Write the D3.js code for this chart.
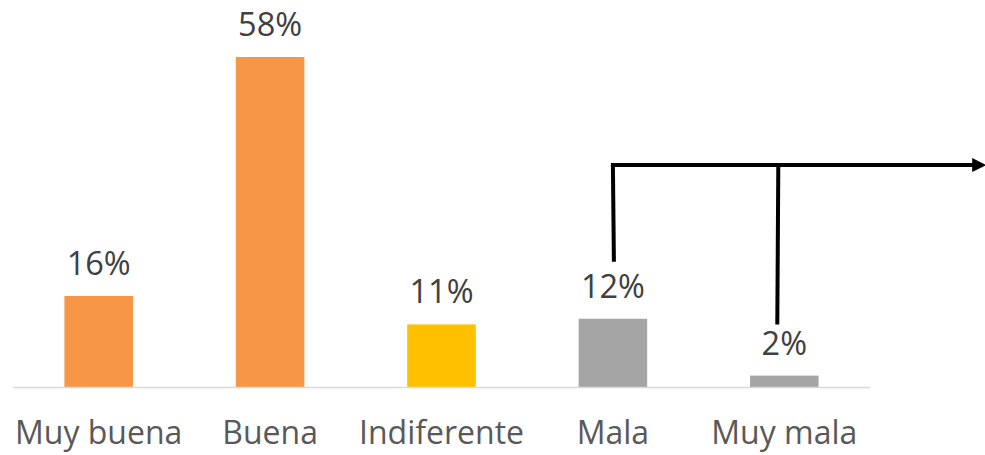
<!DOCTYPE html>
<html>
<head>
<meta charset="utf-8">
<script src="https://cdn.jsdelivr.net/npm/d3@7"></script>
<style>
  html, body { margin: 0; padding: 0; background: #fff; }
  svg { display: block; }
  text { font-family: "Open Sans", sans-serif; }
</style>
</head>
<body>
<svg id="chart" width="985" height="455"></svg>
<script>
const categories = ["Muy buena", "Buena", "Indiferente", "Mala", "Muy mala"];
const values = [16, 58, 11, 12, 2];
const valueLabels = ["16%", "58%", "11%", "12%", "2%"];
const barColors = ["#F79646", "#F79646", "#FFC000", "#A5A5A5", "#A5A5A5"];

const W = 985, H = 455;
const svg = d3.select("#chart");
const x0 = 13, x1 = 870, base = 387;

const x = d3.scaleBand().domain(categories).range([x0, x1]).paddingInner(0.6).paddingOuter(0.3);
const y = d3.scaleLinear().domain([0, 58]).range([base, 57]);

// bars
svg.append("g").selectAll("rect").data(categories).join("rect")
  .attr("x", d => x(d))
  .attr("width", x.bandwidth())
  .attr("y", (d, i) => y(values[i]))
  .attr("height", (d, i) => base - y(values[i]))
  .attr("fill", (d, i) => barColors[i]);

// axis baseline
const xAxis = d3.axisBottom(x).tickSize(0).tickPadding(0);
const gx = svg.append("g").attr("transform", `translate(0,${base})`).call(xAxis);
gx.select(".domain").attr("stroke", "#D9D9D9").attr("stroke-width", 1.5)
  .attr("d", `M${x0},0.5H${x1}`);
gx.selectAll(".tick text")
  .attr("y", 57)
  .attr("dy", 0)
  .attr("fill", "#595959")
  .style("font-size", "32px")
  .style("font-family", "'Open Sans', sans-serif");

// value labels
svg.append("g").selectAll("text").data(categories).join("text")
  .attr("x", d => x(d) + x.bandwidth() / 2)
  .attr("y", (d, i) => y(values[i]) - 21)
  .attr("text-anchor", "middle")
  .attr("fill", "#404040")
  .style("font-size", "32.5px")
  .text((d, i) => valueLabels[i]);

// annotation connector with arrow
const defs = svg.append("defs");
defs.append("marker").attr("id", "arr").attr("viewBox", "0 0 10 10")
  .attr("refX", 2).attr("refY", 5).attr("markerWidth", 3.5).attr("markerHeight", 4)
  .attr("orient", "auto")
  .append("path").attr("d", "M0,0L10,5L0,10Z").attr("fill", "#000");

const levelTop = 39, levelLeft = 22, levelRight = 11;
const cxL = x("Mala") + x.bandwidth() / 2;
const cxR = x("Muy mala") + x.bandwidth() / 2 - 6;
const g = svg.append("g").attr("fill", "none").attr("stroke", "#000").attr("stroke-width", 4);
g.append("path").attr("d", `M${cxL + 1},${y(levelLeft)}L${cxL},${y(levelTop)}`);
g.append("path").attr("d", `M${cxL - 2},${y(levelTop)}L${W - 10},${y(levelTop)}`)
  .attr("marker-end", "url(#arr)");
g.append("path").attr("d", `M${cxR - 1},${y(levelRight)}L${cxR},${y(levelTop)}`);
</script>
</body>
</html>
